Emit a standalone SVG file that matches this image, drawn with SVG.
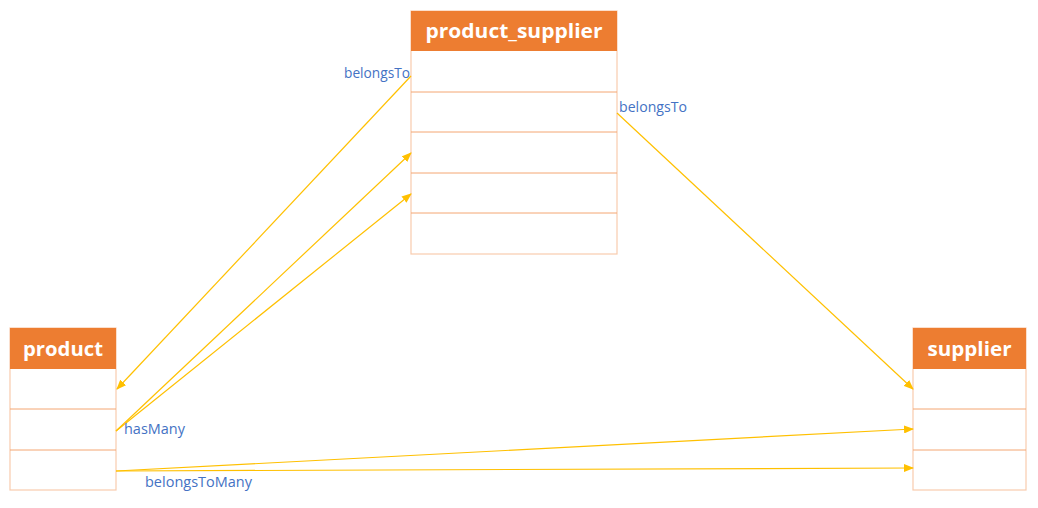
<svg xmlns="http://www.w3.org/2000/svg" width="1038" height="508" viewBox="0 0 1038 508">
<style>
.hdr{fill:#ED7D31;}
.row{fill:#FFFFFF;stroke:#F8CBAD;stroke-width:1.2;}
.sep{stroke:#F4A672;stroke-width:1;}
.title{font-family:"Open Sans","Liberation Sans",sans-serif;font-weight:bold;font-size:20px;fill:#FFFFFF;text-anchor:middle;}
.lbl{font-family:"Open Sans","Liberation Sans",sans-serif;font-size:14px;fill:#4472C4;}
.conn{stroke:#FFC000;stroke-width:1.2;fill:none;marker-end:url(#arr);}
</style>
<defs>
<marker id="arr" markerWidth="10" markerHeight="8" refX="9" refY="4" orient="auto" markerUnits="userSpaceOnUse">
<path d="M0,0 L10,4 L0,8 Z" fill="#FFC000"/>
</marker>
</defs>
<rect width="1038" height="508" fill="#FFFFFF"/>
<g id="product_supplier">
<rect class="row" x="411" y="11" width="206" height="243"/>
<rect class="hdr" x="411" y="11" width="206" height="40"/>
<line class="sep" x1="411" y1="92" x2="617" y2="92"/>
<line class="sep" x1="411" y1="132" x2="617" y2="132"/>
<line class="sep" x1="411" y1="173" x2="617" y2="173"/>
<line class="sep" x1="411" y1="213" x2="617" y2="213"/>
<text class="title" x="514" y="38" textLength="177" lengthAdjust="spacingAndGlyphs">product_supplier</text>
</g>
<g id="product">
<rect class="row" x="10" y="328" width="106" height="162"/>
<rect class="hdr" x="10" y="328" width="106" height="41"/>
<line class="sep" x1="10" y1="409" x2="116" y2="409"/>
<line class="sep" x1="10" y1="450" x2="116" y2="450"/>
<text class="title" x="63" y="356" textLength="80" lengthAdjust="spacingAndGlyphs">product</text>
</g>
<g id="supplier">
<rect class="row" x="913" y="328" width="113" height="162"/>
<rect class="hdr" x="913" y="328" width="113" height="41"/>
<line class="sep" x1="913" y1="409" x2="1026" y2="409"/>
<line class="sep" x1="913" y1="450" x2="1026" y2="450"/>
<text class="title" x="969.5" y="356" textLength="84" lengthAdjust="spacingAndGlyphs">supplier</text>
</g>
<g id="connectors">
<line class="conn" x1="411" y1="76" x2="117" y2="389"/>
<line class="conn" x1="116" y1="431" x2="411" y2="153"/>
<line class="conn" x1="116" y1="431" x2="411" y2="194"/>
<line class="conn" x1="617" y1="113" x2="913" y2="389"/>
<line class="conn" x1="116" y1="471" x2="913" y2="429"/>
<line class="conn" x1="116" y1="471" x2="913" y2="468"/>
<text class="lbl" x="344" y="78" textLength="66" lengthAdjust="spacingAndGlyphs">belongsTo</text>
<text class="lbl" x="619" y="112" textLength="68" lengthAdjust="spacingAndGlyphs">belongsTo</text>
<text class="lbl" x="124" y="434" textLength="61" lengthAdjust="spacingAndGlyphs">hasMany</text>
<text class="lbl" x="145" y="487" textLength="107" lengthAdjust="spacingAndGlyphs">belongsToMany</text>
</g>
</svg>
